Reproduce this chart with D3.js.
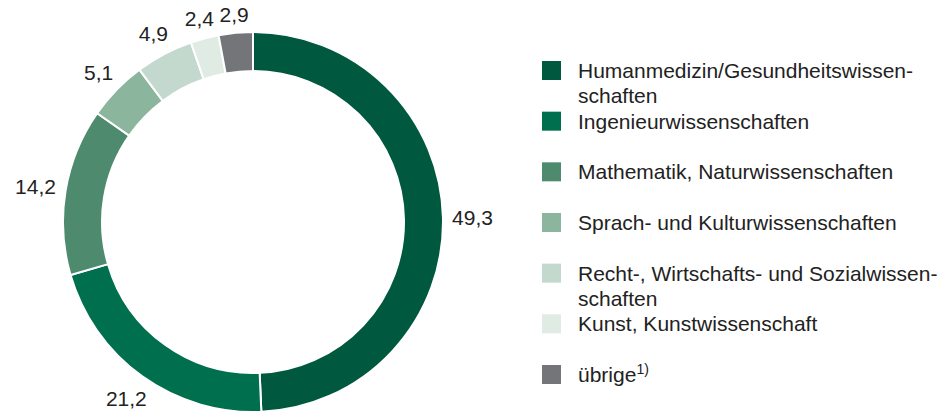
<html>
<head>
<meta charset="utf-8">
<script src="https://d3js.org/d3.v7.min.js"></script>
<style>
  body { margin: 0; background: #fff; }
  text { fill: #222; font-family: Arial, "Liberation Sans", sans-serif; }
</style>
</head>
<body>
<svg width="950" height="419"></svg>
<script>
// data
var categories = ["Humanmedizin/Gesundheitswissen-|schaften", "Ingenieurwissenschaften", "Mathematik, Naturwissenschaften",
                  "Sprach- und Kulturwissenschaften", "Recht-, Wirtschafts- und Sozialwissen-|schaften",
                  "Kunst, Kunstwissenschaft", "übrige"];
var values = [49.3, 21.2, 14.2, 5.1, 4.9, 2.4, 2.9];
var colors = ["#00583f", "#006f4d", "#4e8b6e", "#8bb59d", "#c4d9cd", "#e0ebe4", "#737578"];

var svg = d3.select("svg");
var cx = 253, cy = 222, outer = 190, inner = 151;

var data = categories.map(function(c, i) { return {name: c, value: values[i], color: colors[i]}; });

var pie = d3.pie().sort(null).value(function(d) { return d.value; });
var arc = d3.arc().innerRadius(inner).outerRadius(outer);

var g = svg.append("g").attr("transform", "translate(" + cx + "," + cy + ")");

g.selectAll("path")
  .data(pie(data))
  .enter()
  .append("path")
  .attr("d", arc)
  .attr("fill", function(d) { return d.data.color; })
  .attr("stroke", "#fff")
  .attr("stroke-width", 2);

// value labels: box just outside the ring along the mid angle
g.selectAll(".lbl")
  .data(pie(data))
  .enter()
  .append("text")
  .attr("class", "lbl")
  .attr("text-anchor", "middle")
  .attr("dy", "0.36em")
  .style("font-size", "21px")
  .text(function(d) { return String(d.data.value).replace(".", ","); })
  .attr("transform", function(d) {
    var a = (d.startAngle + d.endAngle) / 2;
    var w = this.getBBox().width;
    var r = 199 + Math.abs(Math.sin(a)) * w / 2 + Math.abs(Math.cos(a)) * 8;
    return "translate(" + (r * Math.sin(a)) + "," + (-r * Math.cos(a)) + ")";
  });

// legend
var ly = d3.scalePoint().domain(categories).range([61, 365]);

var leg = svg.selectAll(".leg")
  .data(data)
  .enter()
  .append("g")
  .attr("class", "leg")
  .attr("transform", function(d) { return "translate(542," + ly(d.name) + ")"; });

leg.append("rect")
  .attr("width", 19)
  .attr("height", 19)
  .attr("fill", function(d) { return d.color; });

leg.each(function(d) {
  var t = d3.select(this).append("text")
    .attr("x", 36)
    .attr("y", 17)
    .style("font-size", "21px");
  d.name.split("|").forEach(function(line, i) {
    t.append("tspan").attr("x", 36).attr("dy", i == 0 ? 0 : 25).text(line);
  });
  if (d.name == "übrige") {
    t.append("tspan").attr("dy", -8).style("font-size", "14px").text("1)");
  }
});
</script>
</body>
</html>
